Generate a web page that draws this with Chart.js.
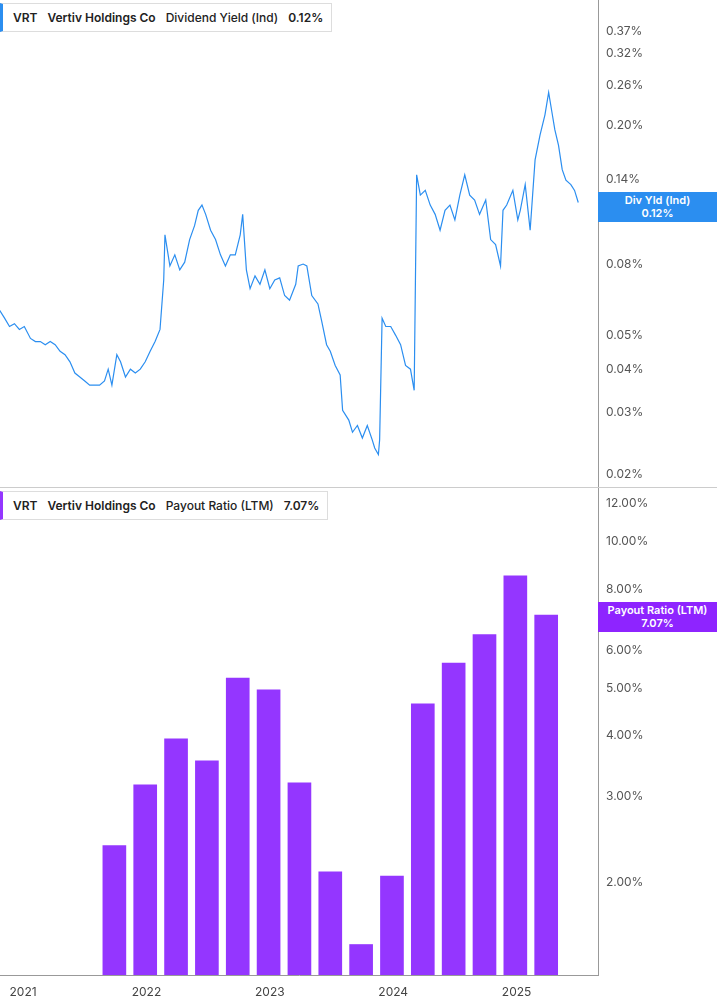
<!DOCTYPE html>
<html><head><meta charset="utf-8">
<script src="https://cdn.jsdelivr.net/npm/chart.js@4.4.1/dist/chart.umd.min.js"></script>
<style>
body{margin:0;width:717px;height:1005px;background:#fff;font-family:Inter,"Noto Sans",sans-serif;position:relative;overflow:hidden}
.pane{position:absolute;left:0;width:717px}
.leg{position:absolute;left:0;background:#fff;border:1px solid #ddd;border-left-width:3px;font-size:12px;font-weight:600;color:#222;padding:6px 8px 6px 10px;white-space:nowrap}
.leg span{margin-right:10px}
.tag{position:absolute;left:598px;width:119px;color:#fff;font-size:11px;font-weight:600;text-align:center;line-height:13px;padding:2px 0}
</style></head><body>
<div class="pane" style="top:0;height:487px;border-bottom:1px solid #ccc"><canvas id="c1" width="717" height="487"></canvas></div>
<div class="pane" style="top:488px;height:517px"><canvas id="c2" width="717" height="517"></canvas></div>
<div class="leg" style="top:3px;border-left-color:#2b8ef0"><span>VRT</span><span>Vertiv Holdings Co</span><span style="font-weight:500">Dividend Yield (Ind)</span><span style="margin:0">0.12%</span></div>
<div class="leg" style="top:491px;border-left-color:#9436ff"><span>VRT</span><span>Vertiv Holdings Co</span><span style="font-weight:500">Payout Ratio (LTM)</span><span style="margin:0">7.07%</span></div>
<div class="tag" style="top:192px;background:#2b8ef0">Div Yld (Ind)<br>0.12%</div>
<div class="tag" style="top:602px;background:#8e24ff">Payout Ratio (LTM)<br>7.07%</div>
<script>
const yieldDates=[2020.81,2020.85,2020.89,2020.93,2020.97,2021.01,2021.06,2021.10,2021.14,2021.18,2021.22,2021.26,2021.30,2021.34,2021.38,2021.42,2021.46,2021.50,2021.54,2021.58,2021.62,2021.66,2021.69,2021.72,2021.76,2021.79,2021.83,2021.87,2021.91,2021.95,2021.99,2022.03,2022.07,2022.11,2022.14,2022.15,2022.19,2022.23,2022.27,2022.31,2022.35,2022.39,2022.42,2022.45,2022.48,2022.52,2022.56,2022.60,2022.64,2022.68,2022.72,2022.76,2022.78,2022.81,2022.84,2022.88,2022.92,2022.96,2023.00,2023.04,2023.08,2023.12,2023.16,2023.21,2023.23,2023.27,2023.30,2023.34,2023.39,2023.42,2023.46,2023.49,2023.53,2023.57,2023.59,2023.64,2023.67,2023.71,2023.75,2023.79,2023.83,2023.85,2023.88,2023.89,2023.91,2023.94,2023.98,2024.02,2024.06,2024.10,2024.14,2024.17,2024.19,2024.22,2024.26,2024.30,2024.34,2024.38,2024.42,2024.46,2024.50,2024.54,2024.58,2024.62,2024.66,2024.70,2024.75,2024.79,2024.83,2024.87,2024.89,2024.92,2024.97,2025.01,2025.03,2025.07,2025.11,2025.15,2025.19,2025.23,2025.26,2025.29,2025.31,2025.34,2025.37,2025.40,2025.44,2025.47,2025.50];
const yieldValues=[0.059,0.056,0.053,0.054,0.052,0.053,0.049,0.048,0.048,0.047,0.048,0.047,0.045,0.044,0.042,0.039,0.038,0.037,0.036,0.036,0.036,0.037,0.040,0.036,0.044,0.042,0.038,0.040,0.039,0.040,0.042,0.045,0.048,0.052,0.072,0.097,0.079,0.085,0.077,0.081,0.094,0.103,0.114,0.118,0.111,0.100,0.094,0.085,0.079,0.085,0.085,0.097,0.111,0.077,0.068,0.074,0.070,0.077,0.068,0.072,0.073,0.065,0.063,0.070,0.079,0.080,0.079,0.065,0.0615,0.055,0.047,0.045,0.041,0.0385,0.0305,0.0286,0.0264,0.0276,0.0254,0.0276,0.0251,0.0238,0.0228,0.0251,0.056,0.053,0.053,0.050,0.047,0.041,0.040,0.0348,0.144,0.126,0.130,0.118,0.111,0.100,0.114,0.118,0.107,0.126,0.144,0.126,0.122,0.111,0.122,0.094,0.091,0.079,0.114,0.118,0.130,0.107,0.114,0.135,0.100,0.159,0.187,0.214,0.248,0.214,0.194,0.175,0.149,0.139,0.135,0.130,0.120];
const payoutQuarters=[2021.74,2021.99,2022.24,2022.49,2022.74,2022.99,2023.24,2023.49,2023.74,2023.99,2024.24,2024.49,2024.74,2024.99,2025.24];
const payoutValues=[2.38,3.17,3.94,3.55,5.25,4.97,3.20,2.10,1.49,2.06,4.65,5.64,6.45,8.52,7.07];
const yieldTicks=[0.02,0.03,0.04,0.05,0.08,0.11,0.14,0.20,0.26,0.32,0.37];
const payoutTicks=[2,3,4,5,6,7,8,10,12];
const yearTicks=[2021,2022,2023,2024,2025];

const fnt={family:'Inter, "Noto Sans", sans-serif',size:12};
const xBase=(show)=>({type:'linear',min:2020.813,max:2025.66,display:show,offset:false,
  grid:{display:false,drawTicks:true,tickLength:4,color:'#999',offset:false},border:{color:'#999'},
  afterBuildTicks:a=>{a.ticks=yearTicks.map(v=>({value:v}))},
  afterFit:a=>{if(show){a.height=30;}else{a.height=0;} a.paddingLeft=0;a.paddingRight=0;},
  ticks:{color:'#444',font:fnt,padding:6,maxRotation:0,callback:v=>String(v)}});
const yBase=(mn,mx,tk)=>({type:'logarithmic',position:'right',min:mn,max:mx,
  grid:{display:false,drawTicks:true,tickLength:4,color:'#999'},border:{color:'#999'},
  afterBuildTicks:a=>{a.ticks=tk.map(v=>({value:v}))},
  afterFit:a=>{a.width=119;a.paddingTop=0;a.paddingBottom=0;},
  ticks:{color:'#555',font:fnt,padding:4,autoSkip:false,callback:v=>v.toFixed(2)+'%'}});
const common={responsive:false,animation:false,layout:{padding:0},plugins:{legend:{display:false},tooltip:{enabled:false}}};

new Chart(document.getElementById('c1'),{type:'line',
 data:{datasets:[{data:yieldDates.map((d,i)=>({x:d,y:yieldValues[i]})),borderColor:'#2b8ef0',borderWidth:1.2,pointRadius:0,tension:0}]},
 options:{...common,scales:{x:xBase(false),y:yBase(0.0184,0.456,yieldTicks)}}});

new Chart(document.getElementById('c2'),{type:'bar',
 data:{datasets:[{data:payoutQuarters.map((d,i)=>({x:d,y:payoutValues[i]})),backgroundColor:'#9436ff',barThickness:23,base:1.29}]},
 options:{...common,scales:{x:xBase(true),y:yBase(1.29,12.9,payoutTicks)}}});
</script>
</body></html>
